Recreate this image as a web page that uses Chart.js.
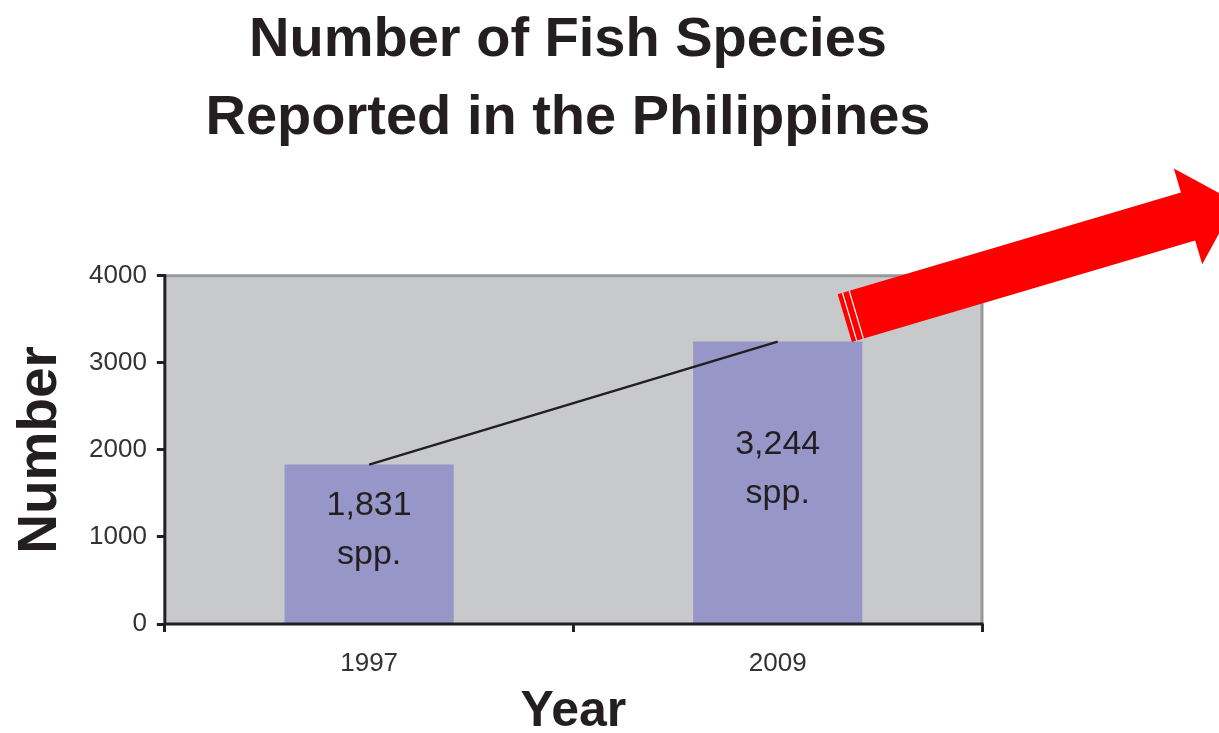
<!DOCTYPE html>
<html>
<head>
<meta charset="utf-8">
<script src="https://cdn.jsdelivr.net/npm/chart.js@4"></script>
<style>
	html, body { margin: 0; padding: 0; background: #fff; }
	#wrap { width: 1219px; height: 733px; }
</style>
</head>
<body>
<div id="wrap"><canvas id="myChartFish"></canvas></div>
<script>
// data
const years = ["1997", "2009"];
const speciesCounts = [1831, 3244];
const countLabels = ["1,831", "3,244"];
const countUnit = "spp.";
const yTickValues = [0, 1000, 2000, 3000, 4000];

const FONT = "'Liberation Sans', Arial, sans-serif";
const INK = "#231f20";

// gray plot background, frame, labels in the bars, red arrow
const fishDecor = {
	id: "fishDecor",
	beforeDraw(chart) {
		const { ctx, chartArea: a } = chart;
		ctx.save();
		ctx.fillStyle = "#c8c9cb";
		ctx.fillRect(a.left, a.top, a.right - a.left, a.bottom - a.top);
		ctx.restore();
	},
	afterDatasetsDraw(chart) {
		const { ctx, chartArea: a } = chart;
		ctx.save();
		ctx.lineWidth = 3;
		ctx.strokeStyle = "#97989a";
		ctx.beginPath();
		ctx.moveTo(a.left, a.top);
		ctx.lineTo(a.right, a.top);
		ctx.lineTo(a.right, a.bottom);
		ctx.stroke();
		ctx.strokeStyle = INK;
		ctx.beginPath();
		ctx.moveTo(a.left, a.top - 1.5);
		ctx.lineTo(a.left, a.bottom);
		ctx.lineTo(a.right + 1.5, a.bottom);
		ctx.stroke();

		// value labels, centred a little above the middle of each bar
		const bars = chart.getDatasetMeta(0).data;
		ctx.fillStyle = INK;
		ctx.font = "34px " + FONT;
		ctx.textAlign = "center";
		ctx.textBaseline = "middle";
		bars.forEach((bar, i) => {
			const mid = (bar.y + bar.base) / 2;
			ctx.fillText(countLabels[i], bar.x, mid - 38);
			ctx.fillText(countUnit, bar.x, mid + 11);
		});
		ctx.restore();
	},
	afterDraw(chart) {
		const { ctx } = chart;
		const bars = chart.getDatasetMeta(0).data;
		const last = bars[bars.length - 1];
		const x0 = last.x + last.width / 2 - 17.5;
		const y0 = last.y - 23.5;
		const len = 408, half = 25, headHalf = 50, headLen = 50;
		ctx.save();
		ctx.translate(x0, y0);
		ctx.rotate(-16.5 * Math.PI / 180);
		ctx.fillStyle = "#ff0000";
		ctx.beginPath();
		ctx.moveTo(0, -half);
		ctx.lineTo(len - headLen, -half);
		ctx.lineTo(len - headLen, -headHalf);
		ctx.lineTo(len, 0);
		ctx.lineTo(len - headLen, headHalf);
		ctx.lineTo(len - headLen, half);
		ctx.lineTo(0, half);
		ctx.closePath();
		ctx.fill();
		ctx.strokeStyle = "#ffffff";
		ctx.lineWidth = 1.2;
		[5, 12].forEach(off => {
			ctx.beginPath();
			ctx.moveTo(off, -half);
			ctx.lineTo(off, half);
			ctx.stroke();
		});
		ctx.restore();
	}
};

const ctxFish = document.getElementById("myChartFish");

new Chart(ctxFish, {
	type: "bar",
	data: {
		labels: years,
		datasets: [
			{
				label: "species",
				data: speciesCounts,
				backgroundColor: "#9696c8",
				categoryPercentage: 1,
				barPercentage: 0.414,
				order: 1
			},
			{
				type: "line",
				label: "trend",
				data: speciesCounts,
				borderColor: INK,
				borderWidth: 2.5,
				pointRadius: 0,
				order: 0
			}
		]
	},
	options: {
		responsive: true,
		maintainAspectRatio: false,
		animation: false,
		layout: {
			padding: { left: 8, right: 91, top: 0, bottom: 0 }
		},
		plugins: {
			legend: {
				display: false
			},
			tooltip: {
				enabled: false
			},
			title: {
				display: true,
				text: ["Number of Fish Species", "Reported in the Philippines"],
				color: INK,
				font: { family: FONT, size: 56, weight: "bold", lineHeight: 1.4 },
				padding: { top: 1, bottom: 118 }
			}
		},
		scales: {
			x: {
				afterFit(scale) {
					scale.height = 109;
				},
				grid: {
					drawOnChartArea: false,
					drawTicks: true,
					tickLength: 8,
					tickWidth: 3,
					tickColor: INK
				},
				border: { display: false },
				ticks: {
					color: "#333",
					padding: 19,
					font: { family: FONT, size: 26, lineHeight: 1 }
				},
				title: {
					display: true,
					text: "Year",
					color: INK,
					font: { family: FONT, size: 50, weight: "bold", lineHeight: 0.84 },
					padding: { top: 0, bottom: 0 }
				}
			},
			y: {
				min: 0,
				max: 4000,
				afterBuildTicks(scale) {
					scale.ticks = yTickValues.map(v => ({ value: v }));
				},
				grid: {
					drawOnChartArea: false,
					drawTicks: true,
					tickLength: 8,
					tickWidth: 3,
					tickColor: INK
				},
				border: { display: false },
				ticks: {
					color: "#333",
					padding: 10,
					font: { family: FONT, size: 26 },
					callback: value => String(value)
				},
				title: {
					display: true,
					text: "Number",
					color: INK,
					font: { family: FONT, size: 55, weight: "bold", lineHeight: 1.2 },
					padding: { top: 0, bottom: 5 }
				}
			},
			yRight: {
				position: "right",
				display: true,
				grid: { display: false },
				border: { display: false },
				ticks: { display: false },
				afterFit(scale) {
					scale.width = 146;
				}
			}
		}
	},
	plugins: [fishDecor]
});
</script>
</body>
</html>
